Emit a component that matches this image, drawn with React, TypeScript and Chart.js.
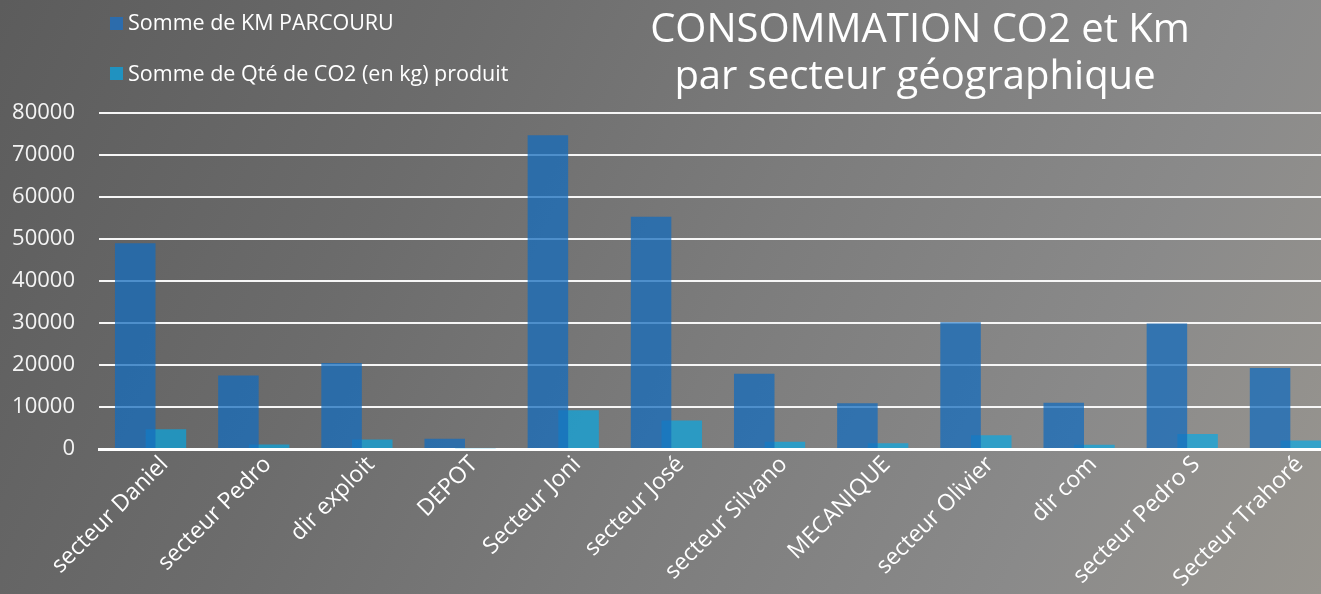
import React, { useEffect, useRef } from "react";
import { Chart, registerables } from "chart.js";

Chart.register(...registerables);

const categories = [
  "secteur Daniel",
  "secteur Pedro",
  "dir exploit",
  "DEPOT",
  "Secteur Joni",
  "secteur José",
  "secteur Silvano",
  "MECANIQUE",
  "secteur Olivier",
  "dir com",
  "secteur Pedro S",
  "Secteur Trahoré",
];
const kmParcouru = [49000, 17500, 20500, 2450, 74700, 55300, 17900, 10900, 30200, 11000, 29900, 19300];
const co2Kg = [4700, 1050, 2250, 200, 9200, 6800, 1750, 1350, 3300, 1000, 3600, 2000];
const seriesLabels = ["Somme de KM PARCOURU", "Somme de Qté de CO2 (en kg) produit"];
const titleLines = ["CONSOMMATION CO2 et Km", "par secteur géographique"];
const yMin = 0;
const yMax = 80000;
const yStep = 10000;

const FONT = "'Open Sans', 'Noto Sans', sans-serif";

const overlayPlugin = {
  id: "overlay",
  afterDraw(chart: any) {
    const ctx = chart.ctx;
    ctx.save();
    // legend
    ctx.font = `21.5px ${FONT}`;
    ctx.textAlign = "left";
    ctx.textBaseline = "alphabetic";
    const rows = [
      { box: 17, base: 30 },
      { box: 67, base: 81 },
    ];
    chart.data.datasets.forEach((ds: any, i: number) => {
      const r = rows[i];
      ctx.fillStyle = ds.legendColor;
      ctx.fillRect(110, r.box, 13, 13);
      ctx.fillStyle = "#ffffff";
      ctx.fillText(ds.label, 128, r.base);
    });
    // title
    ctx.font = `40px ${FONT}`;
    ctx.textAlign = "center";
    ctx.fillStyle = "#ffffff";
    ctx.fillText(titleLines[0], 920, 42);
    ctx.fillText(titleLines[1], 915, 89);
    ctx.restore();
  },
};

export default function App() {
  const ref = useRef<HTMLCanvasElement | null>(null);

  useEffect(() => {
    if (!ref.current) return;
    const chart = new Chart(ref.current, {
      type: "bar",
      data: {
        labels: categories,
        datasets: [
          {
            label: seriesLabels[0],
            data: kmParcouru,
            backgroundColor: "rgba(22,108,188,0.75)",
            legendColor: "rgb(44,108,172)",
            borderWidth: 0,
            categoryPercentage: 0.595,
            barPercentage: 1.32,
          } as any,
          {
            label: seriesLabels[1],
            data: co2Kg,
            backgroundColor: "rgba(0,170,234,0.65)",
            legendColor: "rgb(32,146,192)",
            borderWidth: 0,
            categoryPercentage: 0.595,
            barPercentage: 1.32,
          } as any,
        ],
      },
      options: {
        responsive: false,
        animation: false,
        devicePixelRatio: 1,
        layout: { padding: { top: 113, left: 0, right: 0, bottom: 0 } },
        plugins: {
          legend: { display: false },
          title: { display: false },
          tooltip: { enabled: false },
        },
        scales: {
          x: {
            type: "category",
            grid: { display: false, drawTicks: false },
            border: { display: true, color: "#ffffff", width: 3 },
            ticks: {
              color: "#ffffff",
              font: { family: FONT, size: 23 },
              minRotation: 45,
              maxRotation: 45,
              autoSkip: false,
              labelOffset: 14,
              padding: 2,
            },
            afterFit: (s: any) => {
              s.height = 594 - 449;
            },
          },
          y: {
            min: yMin,
            max: yMax,
            ticks: {
              stepSize: yStep,
              color: "#f4f4f4",
              font: { family: FONT, size: 22 },
              padding: 24,
              callback: (v: any) => String(v),
            },
            grid: { color: "#f6f6f6", lineWidth: 2, drawTicks: false },
            border: { display: false },
            afterFit: (s: any) => {
              s.width = 99;
            },
          },
        },
      },
      plugins: [overlayPlugin],
    } as any);
    return () => chart.destroy();
  }, []);

  return (
    <div
      style={{
        position: "fixed",
        left: 0,
        top: 0,
        width: 1321,
        height: 594,
        overflow: "hidden",
        background:
          "linear-gradient(115deg, #5c5c5c 0%, #6c6c6c 30%, #7c7c7c 55%, #8a8a8a 80%, #98958f 100%)",
      }}
    >
      <canvas ref={ref} width={1337} height={594} style={{ display: "block", width: 1337, height: 594 }} />
    </div>
  );
}
